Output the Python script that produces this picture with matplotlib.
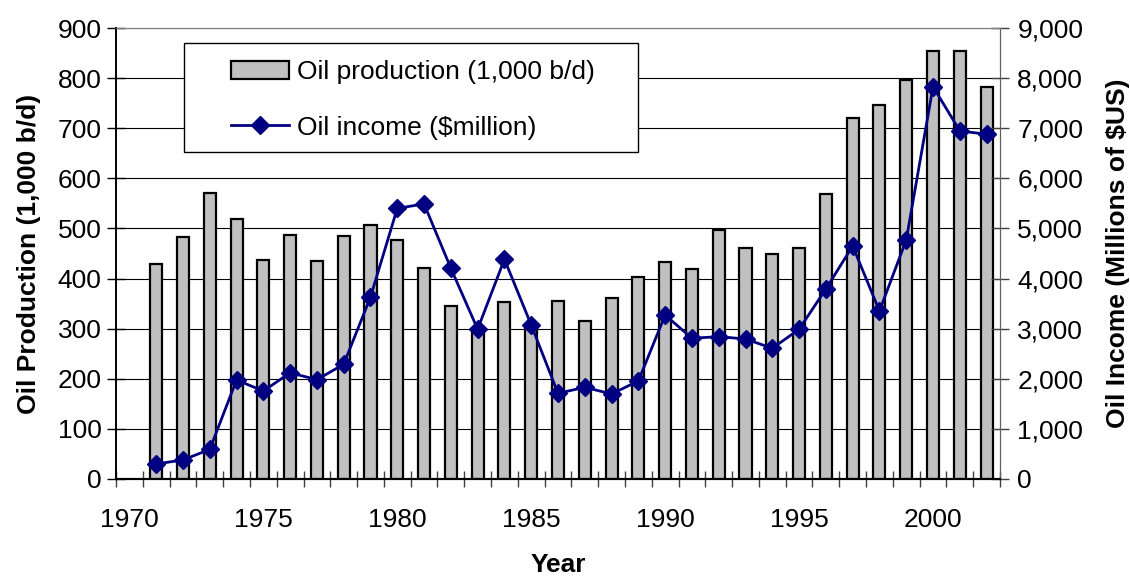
import numpy as np
import matplotlib
matplotlib.use("Agg")
import matplotlib.pyplot as plt
from matplotlib.patches import Rectangle
from matplotlib.ticker import FuncFormatter

plt.rcParams['font.family'] = ['Liberation Sans', 'DejaVu Sans']

# data
years = list(range(1971, 2003))
production = [430, 482, 571, 518, 437, 487, 435, 484, 506, 476,
              422, 345, 300, 353, 305, 355, 315, 361, 404, 434,
              420, 496, 460, 450, 460, 569, 720, 746, 796, 854,
              854, 783]
income = [300, 380, 590, 1976, 1756, 2120, 1982, 2290, 3630, 5400,
          5490, 4206, 2990, 4385, 3074, 1710, 1830, 1697, 1956, 3273,
          2808, 2841, 2794, 2608, 2988, 3792, 4650, 3353, 4770, 7830,
          6946, 6880]
label_years = [1970, 1975, 1980, 1985, 1990, 1995, 2000]

FS = 19
W, H = 1130, 576
fig = plt.figure(figsize=(W / 100, H / 100), dpi=100)
ax = fig.add_axes([116 / W, 1 - 479 / H, (1000 - 116) / W, (479 - 28) / H])
ax2 = ax.twinx()

bars = ax.bar(years, production, width=0.45, color='#C0C0C0',
              edgecolor='black', linewidth=1.6, zorder=3,
              label='Oil production (1,000 b/d)')
line, = ax2.plot(years, income, color='#000080', lw=2, marker='D',
                 markersize=9, markeredgewidth=1, zorder=4,
                 label='Oil income ($million)')

ax.set_xlim(1969.5, 2002.5)
ax.set_ylim(0, 900)
ax2.set_ylim(0, 9000)
ax.set_yticks(np.arange(0, 901, 100))
ax2.set_yticks(np.arange(0, 9001, 1000))
ax2.yaxis.set_major_formatter(FuncFormatter(lambda v, p: f"{v:,.0f}"))

ax.yaxis.grid(True, color='black', lw=0.8)
ax.set_axisbelow(True)

# category boundaries carry the tick marks, labels sit in the middle
ax.set_xticks(np.arange(1969.5, 2003, 1))
ax.set_xticklabels([])
ax.set_xticks(label_years, minor=True)
ax.set_xticklabels([str(y) for y in label_years], minor=True)
ax.tick_params(axis='x', which='major', direction='inout', length=11, width=1, color='#404040')
ax.tick_params(axis='x', which='minor', length=0, pad=21, labelsize=FS)
ax.tick_params(axis='y', direction='inout', length=13, width=1, pad=4, labelsize=FS)
ax2.tick_params(axis='y', direction='inout', length=13, width=1, pad=6,
                labelsize=FS, color='#404040')

for a in (ax, ax2):
    a.spines['top'].set_color('#808080')
    a.spines['right'].set_color('#606060')
    a.spines['left'].set_color('black')
    a.spines['bottom'].set_color('black')
    a.spines['bottom'].set_linewidth(1.5)
    a.spines['left'].set_linewidth(1.2)

ax.set_xlabel('Year', fontsize=FS, fontweight='bold', labelpad=15)
ax.set_ylabel('Oil Production (1,000 b/d)', fontsize=FS, fontweight='bold', labelpad=12)
ax2.set_ylabel('Oil Income (Millions of $US)', fontsize=FS, fontweight='bold', labelpad=16)

# legend box
box = Rectangle((184 / W, 1 - 152 / H), (638 - 184) / W, (152 - 43) / H,
                transform=fig.transFigure, facecolor='white', edgecolor='black',
                linewidth=1, zorder=4)
fig.patches.append(box)
fig.legend(handles=[bars, line], loc='upper left',
           bbox_to_anchor=(231 / W, 1 - 60 / H), frameon=False,
           fontsize=FS, handlelength=2.2, handleheight=0.7, handletextpad=0.3,
           labelspacing=1.2, borderpad=0, borderaxespad=0, numpoints=1)

fig.savefig('out.png', dpi=100)
